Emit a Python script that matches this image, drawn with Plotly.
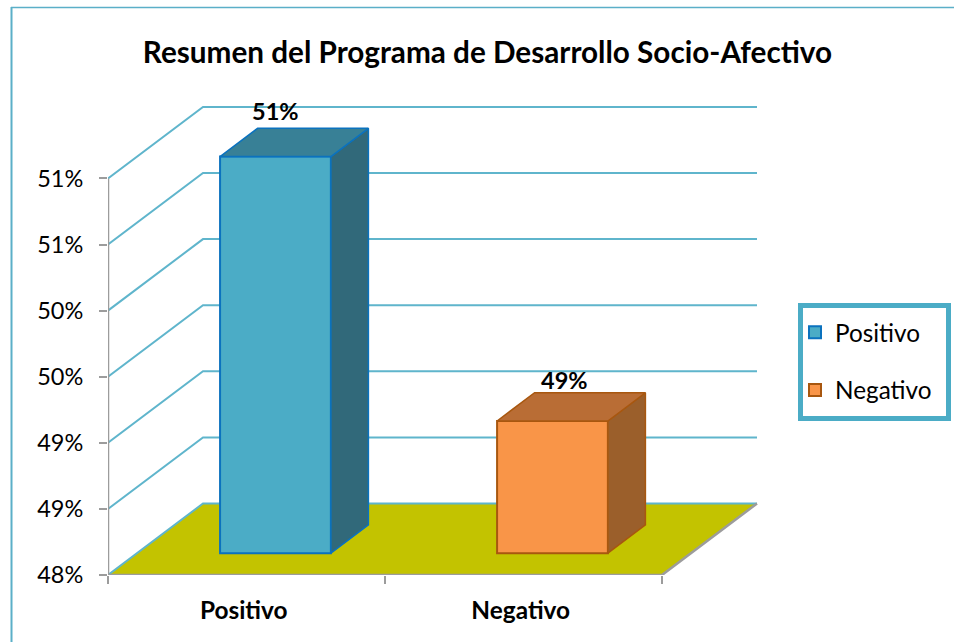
import plotly.graph_objects as go

categories = ["Positivo", "Negativo"]
values = [51, 49]
value_labels = ["51%", "49%"]
y_ticks = [48, 48.5, 49, 49.5, 50, 50.5, 51]
y_tick_labels = ["48%", "49%", "49%", "50%", "50%", "51%", "51%"]

W, H = 954, 642
ML, MR, MT, MB = 108, 196, 105, 67
PW, PH = W - ML - MR, H - MT - MB
X_PX = 277.0
Y_PX = 132.2
DX = 95 / X_PX
DY = 71.5 / Y_PX
BASE = y_ticks[0]
X_RANGE = [0, PW / X_PX]
Y_RANGE = [BASE, BASE + PH / Y_PX]
D_FRONT, D_BACK = 0.305, 0.70
BAR_W = 0.40

GRID = "#5FB5CC"
AXIS = "#9C9C9C"
FLOOR = "#C3C300"
front = ["#4BACC6", "#F99548"]
edge = ["#0B72BE", "#A8570F"]
top = ["#388096", "#B96D35"]
side = ["#31697A", "#9B5F2B"]
label_xshift = [0, 12]
label_yshift = [1, -3]


def px(x):
    return (x - ML) / PW


def py(y):
    return 1 - (y - MT) / PH


fig = go.Figure()


def line(xs, ys, color, width):
    fig.add_trace(go.Scatter(x=xs, y=ys, mode="lines", showlegend=False, hoverinfo="skip",
                             cliponaxis=False, line=dict(color=color, width=width)))


n = len(categories)
fig.add_trace(go.Scatter(x=[0, n, n + DX, DX, 0], y=[BASE, BASE, BASE + DY, BASE + DY, BASE],
                         mode="lines", fill="toself", fillcolor=FLOOR, line=dict(width=0),
                         showlegend=False, hoverinfo="skip"))
for v in y_ticks:
    line([0, DX, n + DX], [v, v + DY, v + DY], GRID, 2)
line([0, n, n + DX], [BASE, BASE, BASE + DY], AXIS, 2.5)
line([0, 0], [BASE, y_ticks[-1]], AXIS, 2.5)


def face(xs, ys, fill, ln):
    fig.add_trace(go.Scatter(x=xs, y=ys, mode="lines", fill="toself", fillcolor=fill,
                             line=dict(color=ln, width=1.5), showlegend=False, hoverinfo="skip",
                             xaxis="x2", yaxis="y2"))


for i, c in enumerate(categories):
    x0 = i + 0.5 - BAR_W / 2
    x1 = x0 + BAR_W
    bf = BASE + D_FRONT * DY
    bb = BASE + D_BACK * DY
    v = values[i]
    xf0 = x0 + D_FRONT * DX
    xf1 = x1 + D_FRONT * DX
    xb0 = x0 + D_BACK * DX
    xb1 = x1 + D_BACK * DX
    tf = v + D_FRONT * DY
    tb = v + D_BACK * DY
    fig.add_trace(go.Bar(x=[(xf0 + xf1) / 2], y=[v - BASE], base=[bf], width=[BAR_W], name=c,
                         legendgroup=c, xaxis="x2", yaxis="y2", hoverinfo="skip",
                         marker=dict(color=front[i], line=dict(color=edge[i], width=2))))
    face([xf1, xb1, xb1, xf1, xf1], [bf, bb, tb, tf, bf], side[i], edge[i])
    face([xf0, xb0, xb1, xf1, xf0], [tf, tb, tb, tf, tf], top[i], edge[i])

annotations = [
    dict(x=i + 0.5 + D_FRONT * DX, y=values[i] + D_BACK * DY, text=f"<b>{value_labels[i]}</b>",
         xref="x", yref="y", showarrow=False, yanchor="bottom",
         xshift=label_xshift[i], yshift=label_yshift[i],
         font=dict(family="Lato", size=23.5, color="#000000"))
    for i in range(n)
]

frame = "#5BAFC8"
shapes = [
    dict(type="line", xref="paper", yref="paper", x0=px(11), x1=px(W), y0=py(7.5), y1=py(7.5),
         line=dict(color=frame, width=1.5)),
    dict(type="line", xref="paper", yref="paper", x0=px(11.5), x1=px(11.5), y0=py(7), y1=py(H),
         line=dict(color=frame, width=2)),
    dict(type="rect", xref="paper", yref="paper", x0=px(800.5), x1=px(948.5), y0=py(305.5), y1=py(418.5),
         line=dict(color="#4BACC6", width=5), fillcolor="white"),
]

fig.update_layout(
    width=W, height=H, autosize=False,
    margin=dict(l=ML, r=MR, t=MT, b=MB, pad=0),
    paper_bgcolor="white", plot_bgcolor="white",
    font=dict(family="Lato", color="#000000"),
    title=dict(text="<b>Resumen del Programa de Desarrollo Socio-Afectivo</b>",
               font=dict(family="Lato", size=29.7), x=487.5 / W, xanchor="center",
               y=1 - 53 / H, yanchor="middle"),
    xaxis=dict(range=X_RANGE, tickvals=[i + 0.49 for i in range(n)],
               ticktext=[f"<b>{c}</b>" for c in categories], tickfont=dict(size=24.4),
               ticks="", showgrid=False, zeroline=False, showline=False, ticklabelstandoff=19,
               minor=dict(tickvals=list(range(n + 1)), ticks="outside", ticklen=8, tickcolor=AXIS,
                          tickwidth=2, showgrid=False)),
    yaxis=dict(range=Y_RANGE, tickvals=y_ticks, ticktext=y_tick_labels, tickfont=dict(size=23.5),
               ticks="outside", ticklen=8, tickcolor=AXIS, tickwidth=2, showgrid=False,
               zeroline=False, showline=False, ticklabelstandoff=11),
    xaxis2=dict(range=X_RANGE, overlaying="x", visible=False, matches="x"),
    yaxis2=dict(range=Y_RANGE, overlaying="y", visible=False, matches="y"),
    barmode="overlay",
    annotations=annotations, shapes=shapes,
    legend=dict(x=px(795), xanchor="left",
                y=py(310), yanchor="top",
                borderwidth=0, bgcolor="rgba(0,0,0,0)",
                font=dict(size=24.3), traceorder="grouped", tracegroupgap=23,
                entrywidth=100, entrywidthmode="pixels"),
)

fig.write_html("out.html", config={"displayModeBar": False},
               post_script="document.body.style.margin='0';")
